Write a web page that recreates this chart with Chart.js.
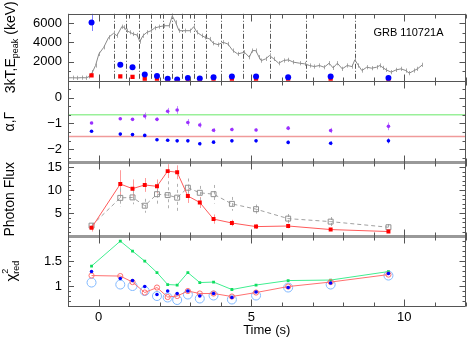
<!DOCTYPE html>
<html>
<head>
<meta charset="utf-8">
<script src="https://cdn.jsdelivr.net/npm/chart.js@4.4.1/dist/chart.umd.min.js"></script>
<style>
  html, body { margin: 0; padding: 0; background: #fff; }
  #wrap { position: relative; width: 471px; height: 340px; }
</style>
</head>
<body>
<div id="wrap"><canvas id="grb" width="471" height="340"></canvas></div>
<script>
'use strict';

// centres and edges of the time bins used for the spectra (s)
const binTime = [-0.23, 0.71, 1.11, 1.51, 1.91, 2.26, 2.57, 2.92, 3.31, 3.76, 4.36, 5.15, 6.2, 7.59, 9.48];
const binEdge = [0.52, 0.90, 1.32, 1.72, 2.12, 2.39, 2.74, 3.11, 3.50, 4.01, 4.71, 5.6, 6.79, 8.38];

// panel 1 : Epeak (blue), 3kT (red), light curve (grey)
const peakBlue = [6100, 1660, 1410, 650, 480, 200, 130, 270, 230, 370, 440, 440, 370, 440, 270];
const peakBlueErr = [900, 200, 250, 120, 100, 60, 50, 60, 50, 60, 60, 60, 60, 70, 60];
const kTRed = [550, 450, 400, 180, 130, 60, 50, 60, 50, 60, 60, 60, 60, 60, 50];

const lcTime = [-1.0, -0.85, -0.7, -0.55, -0.4, -0.3, -0.2, -0.1, 0.01, 0.17, 0.33, 0.49, 0.6, 0.76, 0.84,
  0.92, 1.03, 1.13, 1.26, 1.35, 1.45, 1.58, 1.72, 1.83, 1.99, 2.15, 2.31, 2.41, 2.52, 2.63,
  2.84, 3.0, 3.11, 3.22, 3.38, 3.48, 3.64, 3.75, 3.91, 4.07, 4.23, 4.39, 4.55, 4.77, 4.93,
  5.03, 5.14, 5.25, 5.32, 5.46, 5.59, 5.73, 5.89, 6.05, 6.21, 6.37, 6.58, 6.74, 6.9, 7.06,
  7.22, 7.38, 7.54, 7.67, 7.81, 7.97, 8.13, 8.29, 8.38, 8.5, 8.61, 8.77, 8.93, 9.09, 9.2,
  9.31, 9.41, 9.57, 9.73, 9.89, 10.05, 10.16, 10.32, 10.43, 10.59];
const lcRate = [300, 310, 290, 320, 300, 450, 900, 1590, 2800, 3500, 4540, 4960, 4710, 5650, 5580,
  5230, 5060, 4890, 4780, 4090, 4710, 5060, 5230, 5510, 5650, 5750, 5750, 6790, 6100, 5230,
  5230, 5230, 5650, 5060, 4710, 4540, 4360, 3920, 3770, 4020, 3840, 3150, 2800, 2980, 2460,
  3150, 3150, 2460, 2100, 2280, 2630, 2280, 1830, 2110, 2180, 1940, 1830, 1760, 1590, 1480,
  1590, 1410, 1830, 1340, 1830, 1240, 1590, 1480, 2180, 1590, 1060, 1410, 1310, 1410, 1590,
  1340, 1130, 895, 1130, 1240, 1060, 790, 1060, 1240, 1660];
const lcErr = 220;

// panel 2 : alpha (purple), Gamma (blue), reference slopes -2/3 and -3/2
const alphaPurple = [-0.98, -0.82, -0.84, -0.71, -0.84, -0.53, -0.48, -0.96, -1.06, -1.26, -1.23, -1.25, -1.18, -1.27, -1.11];
const alphaPurpleErr = [0.05, 0.05, 0.05, 0.13, 0.07, 0.13, 0.15, 0.13, 0.1, 0.08, 0.07, 0.06, 0.08, 0.1, 0.15];
const gammaBlue = [-1.3, -1.41, -1.43, -1.46, -1.63, -1.65, -1.67, -1.67, -1.78, -1.72, -1.67, -1.67, -1.73, -1.76, -1.67];
const gammaBlueErr = [0.04, 0.04, 0.04, 0.05, 0.05, 0.05, 0.05, 0.05, 0.07, 0.06, 0.05, 0.05, 0.07, 0.08, 0.1];
const alphaRef = [-2 / 3, -3 / 2];

// panel 3 : photon flux
const fluxRed = [1.8, 11.3, 10.3, 11.1, 10.8, 14.1, 13.85, 8.7, 7.3, 3.7, 2.85, 2.07, 2.2, 1.43, 1.0];
const fluxRedErr = [0.8, 3, 2, 1.5, 1.5, 1.5, 1.5, 1.5, 1.2, 1, 0.7, 0.5, 0.5, 0.3, 0.3];
const fluxGray = [2.28, 8.3, 8.4, 6.6, 9.1, 8.9, 8.35, 10.5, 9.4, 9.1, 7.0, 5.85, 3.8, 3.15, 1.93];
const fluxGrayErr = [0.5, 2, 1.5, 1.5, 2.5, 3, 3, 2, 1.5, 2, 1.5, 1, 1, 1, 0.7];

// panel 4 : reduced chi2 of the fits
const chiGreen = [1.40, 1.9, 1.70, 1.5, 1.27, 1.03, 1.02, 1.27, 1.07, 1.08, 0.93, 1.02, 1.11, 1.12, 1.29];
const chiRed = [1.21, 1.2, 1.08, 0.87, 0.97, 0.78, 0.8, 0.9, 0.85, 0.85, 0.79, 0.87, 0.99, 1.08, 1.23];
const chiBlue = [1.29, 1.15, 1.11, 0.99, 0.83, 0.9, 0.85, 0.9, 0.8, 0.85, 0.77, 0.88, 0.97, 1.06, 1.25];
const chiCyan = [1.07, 1.03, 1.0, 0.9, 0.8, 0.77, 0.72, 0.83, 0.75, 0.81, 0.73, 0.81, 0.97, 1.03, 1.21];

// axes
const xRange = [-1, 12];
const xTickLabels = [0, 5, 10];
const peakTicks = [2000, 4000, 6000];
const alphaTicks = [0, -1, -2];
const fluxTicks = [5, 10, 15];
const chiTicks = [1, 1.5];

const FONT = "'Liberation Sans', Arial, Helvetica, sans-serif";

const pts = ys => binTime.map((t, i) => ({ x: t, y: ys[i] }));
const pick = list => v => list.some(t => Math.abs(t - v) < 1e-6) ? String(v).replace('-', '\u2212') : null;

// minor tick step and minors per major, per panel
const panels = [
  { id: 'y1', minor: 1000, per: 2 },
  { id: 'y2', minor: 1 / 3, per: 3 },
  { id: 'y3', minor: 1, per: 5 },
  { id: 'y4', minor: 0.1, per: 5 }
];

function yScale(min, max, step, weight, stackWeight, labels) {
  return {
    type: 'linear', position: 'left', stack: 'panels', stackWeight: stackWeight, weight: weight,
    min: min, max: max,
    grid: { display: false, drawTicks: false }, border: { display: false },
    ticks: { stepSize: step, autoSkip: false, padding: 6, color: '#000', font: { family: FONT, size: 13 }, callback: pick(labels) },
    afterFit: s => { s.width = 68; }
  };
}

const errorBars = {
  id: 'errorBars',
  beforeDatasetsDraw(chart) {
    const ctx = chart.ctx;
    const xs = chart.scales.x;
    // bin edges in the top panel
    const y1 = chart.scales.y1;
    ctx.save();
    ctx.strokeStyle = '#555';
    ctx.lineWidth = 1;
    ctx.setLineDash([5, 2, 1, 2]);
    binEdge.forEach(e => {
      const x = Math.round(xs.getPixelForValue(e)) + 0.5;
      ctx.beginPath(); ctx.moveTo(x, y1.top); ctx.lineTo(x, y1.bottom); ctx.stroke();
    });
    ctx.restore();

    chart.data.datasets.forEach((ds, i) => {
      if (!ds.errors) return;
      const meta = chart.getDatasetMeta(i);
      const ys = chart.scales[ds.yAxisID];
      ctx.save();
      ctx.strokeStyle = ds.errColor;
      ctx.lineWidth = 1;
      ctx.setLineDash(ds.errDash || []);
      meta.data.forEach((pt, j) => {
        const v = ds.data[j].y;
        const e = Array.isArray(ds.errors) ? ds.errors[j] : ds.errors;
        const x = Math.round(pt.x) + 0.5;
        ctx.beginPath();
        ctx.moveTo(x, ys.getPixelForValue(v + e));
        ctx.lineTo(x, ys.getPixelForValue(v - e));
        ctx.stroke();
      });
      ctx.restore();
    });
  }
};

function drawRotated(ctx, parts, cx, cy) {
  // parts: {text, size, dy, keep} ; keep = do not advance (stacked sup/sub)
  let total = 0, adv = 0;
  parts.forEach(p => {
    ctx.font = p.size + 'px ' + FONT;
    const w = ctx.measureText(p.text).width;
    p.w = w;
    if (p.keep) { adv = Math.max(adv, w); } else { total += Math.max(adv, 0); adv = w; }
  });
  total += adv;
  ctx.save();
  ctx.translate(cx, cy);
  ctx.rotate(-Math.PI / 2);
  ctx.fillStyle = '#000';
  ctx.textBaseline = 'alphabetic';
  ctx.textAlign = 'left';
  let x = -total / 2, last = 0;
  parts.forEach(p => {
    ctx.font = p.size + 'px ' + FONT;
    if (!p.keep) { x += last; last = p.w; } else { last = Math.max(last, p.w); }
    ctx.fillText(p.text, x, 5 + (p.dy || 0));
  });
  ctx.restore();
}

const frame = {
  id: 'frame',
  afterDatasetsDraw(chart) {
    const { ctx, chartArea: a, scales } = chart;
    const xs = scales.x;
    const seg = (x0, y0, x1, y1) => { ctx.beginPath(); ctx.moveTo(x0, y0); ctx.lineTo(x1, y1); ctx.stroke(); };
    ctx.save();
    ctx.lineWidth = 1;
    ctx.strokeStyle = '#555';

    // y ticks on both sides of each panel
    panels.forEach(p => {
      const s = scales[p.id];
      const k0 = Math.ceil(s.min / p.minor - 1e-6), k1 = Math.floor(s.max / p.minor + 1e-6);
      for (let k = k0; k <= k1; k++) {
        const y = Math.round(s.getPixelForValue(k * p.minor)) + 0.5;
        const len = k % p.per === 0 ? 6 : 3;
        seg(a.left, y, a.left + len, y);
        seg(a.right - len, y, a.right, y);
      }
    });

    // panel boundaries and x ticks
    const bounds = [scales.y1.top, scales.y1.bottom, scales.y2.bottom, scales.y3.bottom, scales.y4.bottom];
    bounds.forEach((b, i) => {
      const y = Math.round(b) + 0.5;
      const inner = i === 2 || i === 3;
      ctx.strokeStyle = inner ? '#999' : '#555';
      ctx.lineWidth = inner ? 3 : 1;
      seg(a.left, y, a.right, y);
      ctx.strokeStyle = '#555';
      ctx.lineWidth = 1;
      for (let t = Math.ceil(xRange[0]); t <= xRange[1]; t++) {
        const x = Math.round(xs.getPixelForValue(t)) + 0.5;
        const len = t % 5 === 0 ? 7 : 4;
        const up = i === 0 ? 0 : len;
        const down = i === bounds.length - 1 ? 0 : len;
        seg(x, y - up, x, y + down);
      }
    });
    seg(Math.round(a.left) + 0.5, a.top, Math.round(a.left) + 0.5, a.bottom);
    seg(Math.round(a.right) - 0.5, a.top, Math.round(a.right) - 0.5, a.bottom);
    ctx.restore();

    // label and axis titles
    ctx.save();
    ctx.fillStyle = '#000';
    ctx.font = '11px ' + FONT;
    ctx.textAlign = 'center';
    ctx.textBaseline = 'middle';
    ctx.fillText('GRB 110721A', a.right - 57, scales.y1.top + 19.5);
    ctx.restore();

    const mid = s => (s.top + s.bottom) / 2;
    drawRotated(ctx, [{ text: '3kT,E', size: 14 }, { text: 'peak', size: 9, dy: 3 }, { text: ' (keV)', size: 14 }], 10, mid(scales.y1));
    drawRotated(ctx, [{ text: '\u03b1,\u0393', size: 14 }], 9, mid(scales.y2));
    drawRotated(ctx, [{ text: 'Photon Flux', size: 14 }], 9, mid(scales.y3));
    drawRotated(ctx, [{ text: '\u03c7', size: 15 }, { text: '2', size: 9, dy: -8 }, { text: 'red', size: 9, dy: 3, keep: true }], 11, mid(scales.y4));
  }
};

const datasets = [
  // panel 1
  { data: pts(peakBlue), yAxisID: 'y1', showLine: false, pointRadius: 3, pointBorderWidth: 0,
    pointBackgroundColor: '#0000ff', errors: peakBlueErr, errColor: '#8080ff' },
  { data: pts(kTRed), yAxisID: 'y1', showLine: false, pointStyle: 'rect', pointRadius: 3, pointBorderWidth: 0,
    pointBackgroundColor: '#ff0000' },
  { data: lcTime.map((t, i) => ({ x: t, y: lcRate[i] })), yAxisID: 'y1', borderColor: '#8a8a8a', borderWidth: 1,
    pointRadius: 0, errors: lcErr, errColor: '#aaaaaa' },
  // panel 2
  { data: pts(alphaPurple), yAxisID: 'y2', showLine: false, pointRadius: 1.8, pointBorderWidth: 0,
    pointBackgroundColor: '#9a30ff', errors: alphaPurpleErr, errColor: '#c890ff' },
  { data: pts(gammaBlue), yAxisID: 'y2', showLine: false, pointRadius: 1.8, pointBorderWidth: 0,
    pointBackgroundColor: '#0000ff', errors: gammaBlueErr, errColor: '#8080ff' },
  { data: xRange.map(x => ({ x: x, y: alphaRef[0] })), yAxisID: 'y2', borderColor: '#99f099', borderWidth: 1.5, pointRadius: 0 },
  { data: xRange.map(x => ({ x: x, y: alphaRef[1] })), yAxisID: 'y2', borderColor: '#f09a9a', borderWidth: 1.5, pointRadius: 0 },
  // panel 3
  { data: pts(fluxRed), yAxisID: 'y3', borderColor: '#ff5a5a', borderWidth: 1, pointStyle: 'rect', pointRadius: 2.8,
    pointBorderWidth: 0, pointBackgroundColor: '#ff0000', errors: fluxRedErr, errColor: '#ff9a9a' },
  { data: pts(fluxGray), yAxisID: 'y3', borderColor: '#a0a0a0', borderWidth: 1, borderDash: [4, 3], pointStyle: 'rect',
    pointRadius: 3.5, pointBorderWidth: 1, pointBorderColor: '#909090', pointBackgroundColor: 'rgba(255,255,255,0)',
    errors: fluxGrayErr, errColor: '#b0b0b0', errDash: [3, 3] },
  // panel 4
  { data: pts(chiBlue), yAxisID: 'y4', showLine: false, pointRadius: 1.8, pointBorderWidth: 0, pointBackgroundColor: '#0000ff' },
  { data: pts(chiRed), yAxisID: 'y4', borderColor: '#ff7070', borderWidth: 1, pointRadius: 2.6, pointBorderWidth: 1,
    pointBorderColor: '#ff7070', pointBackgroundColor: 'rgba(255,255,255,0)' },
  { data: pts(chiGreen), yAxisID: 'y4', borderColor: '#40ee90', borderWidth: 1, pointStyle: 'rect', pointRadius: 2,
    pointBorderWidth: 0, pointBackgroundColor: '#10dd60' },
  { data: pts(chiCyan), yAxisID: 'y4', showLine: false, pointRadius: 4.5, pointBorderWidth: 1,
    pointBorderColor: '#80b8ff', pointBackgroundColor: 'rgba(255,255,255,0)' }
];

new Chart(document.getElementById('grb'), {
  type: 'line',
  data: { datasets: datasets },
  options: {
    responsive: false,
    animation: false,
    layout: { padding: { left: 0, top: 9, right: 5, bottom: 0 } },
    plugins: { legend: { display: false }, tooltip: { enabled: false } },
    elements: { line: { tension: 0 } },
    scales: {
      x: {
        type: 'linear', min: xRange[0], max: xRange[1],
        grid: { display: false, drawTicks: false }, border: { display: false },
        ticks: { stepSize: 1, autoSkip: false, padding: 4, maxRotation: 0, color: '#000',
          font: { family: FONT, size: 13 }, callback: pick(xTickLabels) },
        title: { display: true, text: 'Time (s)', color: '#000', font: { family: FONT, size: 13 }, padding: { top: 0, bottom: 2 } },
        afterFit: s => { s.height = 34; }
      },
      y1: yScale(0, 7000, 1000, 4, 68, peakTicks),
      y2: yScale(-2.5, 0.65, 0.5, 3, 83, alphaTicks),
      y3: yScale(0, 16, 1, 2, 75, fluxTicks),
      y4: yScale(0.6, 2.0, 0.1, 1, 71, chiTicks)
    }
  },
  plugins: [errorBars, frame]
});
</script>
</body>
</html>
